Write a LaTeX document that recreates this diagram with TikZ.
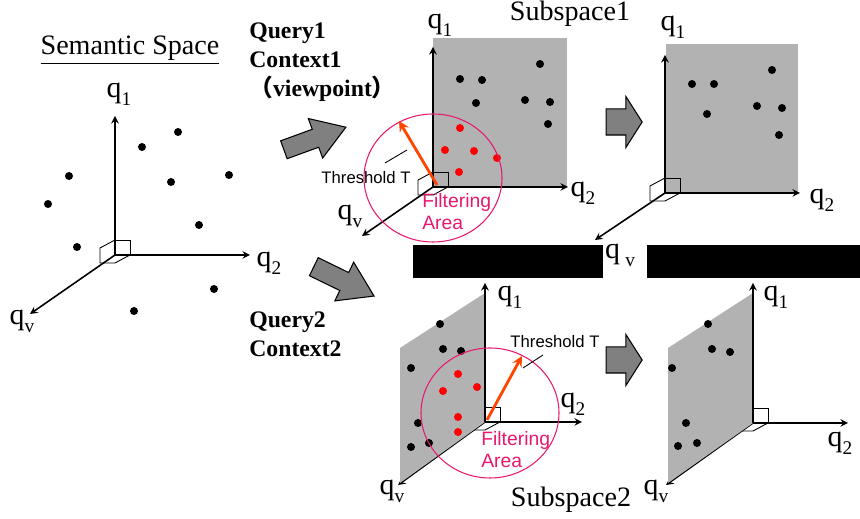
\documentclass[tikz,border=0pt]{standalone}
\usepackage{fontspec}
\setmainfont{Liberation Serif}
\newfontfamily\labelsans{Liberation Sans}
\newfontfamily\cjk{Noto Sans CJK JP}
\usetikzlibrary{arrows,shapes.arrows}

\definecolor{planegray}{RGB}{178,178,178}
\definecolor{arrowgray}{RGB}{128,128,128}
\definecolor{filterpink}{RGB}{232,24,110}
\definecolor{threshorange}{RGB}{255,69,0}

% axis labels q_1, q_2, q_v
\newcommand{\ql}[1]{{\fontsize{17}{17}\selectfont q\raisebox{-4.5pt}{\fontsize{11}{11}\selectfont #1}}}
% little right-angle box at an origin
\newcommand{\cornermark}[1]{%
  \begin{scope}[shift={(#1)}]
    \draw[line width=0.5pt] (0,-15) -- (15,-15) -- (15,0);
    \draw[line width=0.5pt] (0,-15) -- (-15,-7) -- (-15,8) -- (0,8) -- (15,0);
  \end{scope}}

\tikzset{
  axis/.style={->, >=stealth, line width=0.9pt},
  plane/.style={fill=planegray, draw=none},
  blockarrow/.style={single arrow, draw=black, fill=arrowgray, line width=0.6pt, inner xsep=0pt, text height=0pt, text depth=0pt},
  filter/.style={draw=filterpink, line width=0.6pt},
  thresh/.style={->, >=stealth, draw=threshorange, line width=1.6pt},
  filtertext/.style={text=filterpink, font=\labelsans\fontsize{11}{12.5}\selectfont, align=left, anchor=west, inner sep=0pt},
  threshtext/.style={font=\labelsans\fontsize{9.5}{10}\selectfont, inner sep=0pt},
  querytext/.style={font=\fontsize{13.5}{16.5}\selectfont\bfseries, align=left, anchor=north west, inner sep=0pt},
  titletext/.style={font=\fontsize{16}{18}\selectfont, inner sep=0pt}
}

\begin{document}
\begin{tikzpicture}[x=0.02cm, y=-0.02cm]
  \useasboundingbox (0,0) rectangle (860,519);

  % semantic space
  \node[titletext] (title) at (130,50) {\underline{Semantic Space}};
  \coordinate (o0) at (115,255);
  \coordinate (o0y) at (115,116);
  \coordinate (o0x) at (250,255);
  \coordinate (o0v) at (30,314);
  \draw[axis] (o0) -- (o0y);
  \draw[axis] (o0) -- (o0x);
  \draw[axis] (o0) -- (o0v);
  \cornermark{o0}
  \node (q0y) at (119,94) {\ql{1}};
  \node (q0x) at (269,263) {\ql{2}};
  \node (q0v) at (22,321) {\ql{v}};
  \foreach \p in {(178,132),(142,147),(69,176),(171,182),(229,175),(48,204),(199,225),(77,247),(214,289),(134,311)}
    \fill \p circle (4);

  % queries
  \node[querytext] (query1) at (249,22) {Query1\\Context1\\{\cjk（}viewpoint{\cjk）}};
  \node[querytext] (query2) at (249,311) {Query2\\Context2};
  \node[blockarrow, inner ysep=0.18cm, minimum height=1.32cm, single arrow head extend=0.23cm, single arrow tip angle=66, rotate=20] (arrow1) at (308,141) {};
  \node[blockarrow, inner ysep=0.19cm, minimum height=1.34cm, single arrow head extend=0.23cm, single arrow tip angle=66, rotate=-26] (arrow2) at (337,278) {};

  % subspace 1
  \node[titletext] (sub1) at (570,14) {Subspace1};
  \fill[plane] (433,38) rectangle (567,187);
  \coordinate (o1) at (433,187);
  \coordinate (o1y) at (433,47);
  \coordinate (o1x) at (568,187);
  \coordinate (o1v) at (362,236);
  \draw[axis] (o1) -- (o1y);
  \draw[axis] (o1) -- (o1x);
  \draw[axis] (o1) -- (o1v);
  \cornermark{o1}
  \node (q1y) at (440,25) {\ql{1}};
  \node (q1x) at (583,193) {\ql{2}};
  \node (q1v) at (350,216) {\ql{v}};
  \foreach \p in {(460,79),(482,80),(540,64),(476,103),(525,100),(550,102),(548,124)}
    \fill \p circle (4);
  \foreach \p in {(460,128),(445,150),(474,151),(497,158),(459,172)}
    \fill[red] \p circle (4);
  \draw[filter] (433,178) ellipse (69 and 64);
  \coordinate (t1) at (399,121);
  \draw[thresh] (o1) ++(4,-2) -- (t1);
  \node[threshtext] (th1) at (366,178) {Threshold T};
  \draw[line width=0.5pt] (385,163) -- (407,150);
  \node[filtertext] (fa1) at (422,212) {Filtering\\Area};

  % reduced subspace 1
  \node[blockarrow, inner ysep=0.25cm, minimum height=0.72cm, single arrow head extend=0.25cm, single arrow tip angle=115] (arrow3) at (620,122) {};
  \fill[plane] (666,44) rectangle (798,193);
  \coordinate (o2) at (665,193);
  \coordinate (o2y) at (665,55);
  \coordinate (o2x) at (800,193);
  \coordinate (o2v) at (595,240);
  \draw[axis] (o2) -- (o2y);
  \draw[axis] (o2) -- (o2x);
  \draw[axis] (o2) -- (o2v);
  \cornermark{o2}
  \node (q2y) at (673,27) {\ql{1}};
  \node (q2x) at (822,200) {\ql{2}};
  \node (q2v) at (620,255) {\ql{\;v}};
  \foreach \p in {(692,84),(714,84),(772,70),(707,114),(757,106),(782,108),(779,135)}
    \fill \p circle (4);

  % black bars
  \fill (413,245) rectangle (603,278);
  \fill (647,245) rectangle (860,278);

  % subspace 2
  \coordinate (o3) at (485,422);
  \coordinate (o3y) at (485,283);
  \coordinate (o3x) at (582,422);
  \coordinate (o3v) at (398,485);
  \draw[axis] (o3) -- (o3v);
  \cornermark{o3}
  \fill[plane] (485,293) -- (400,348) -- (400,483) -- (o3) -- cycle;
  \draw[axis] (o3) -- (o3y);
  \draw[axis] (o3) -- (o3x);
  \node (q3y) at (510,297) {\ql{1}};
  \node (q3x) at (573,404) {\ql{2}};
  \node (q3v) at (392,491) {\ql{v}};
  \foreach \p in {(440,324),(443,349),(461,351),(411,368),(418,423),(411,447),(429,443)}
    \fill \p circle (4);
  \foreach \p in {(458,374),(443,391),(477,387),(458,417),(458,432)}
    \fill[red] \p circle (4);
  \draw[filter] (490,413) ellipse (69 and 65);
  \coordinate (t3) at (522,356);
  \draw[thresh] (o3) ++(2,-2) -- (t3);
  \node[threshtext] (th3) at (555,342) {Threshold T};
  \draw[line width=0.5pt] (523,368) -- (543,355);
  \node[filtertext] (fa3) at (481,450) {Filtering\\Area};
  \node[titletext] (sub2) at (571,500) {Subspace2};

  % reduced subspace 2
  \node[blockarrow, inner ysep=0.25cm, minimum height=0.72cm, single arrow head extend=0.25cm, single arrow tip angle=115] (arrow4) at (620,360) {};
  \coordinate (o4) at (753,423);
  \coordinate (o4y) at (753,283);
  \coordinate (o4x) at (848,423);
  \coordinate (o4v) at (666,485);
  \draw[axis] (o4) -- (o4v);
  \cornermark{o4}
  \fill[plane] (753,293) -- (668,348) -- (668,483) -- (o4) -- cycle;
  \draw[axis] (o4) -- (o4y);
  \draw[axis] (o4) -- (o4x);
  \node (q4y) at (776,297) {\ql{1}};
  \node (q4x) at (840,443) {\ql{2}};
  \node (q4v) at (656,491) {\ql{v}};
  \foreach \p in {(708,324),(712,349),(730,352),(672,368),(686,423),(678,446),(697,443)}
    \fill \p circle (4);
\end{tikzpicture}
\end{document}
